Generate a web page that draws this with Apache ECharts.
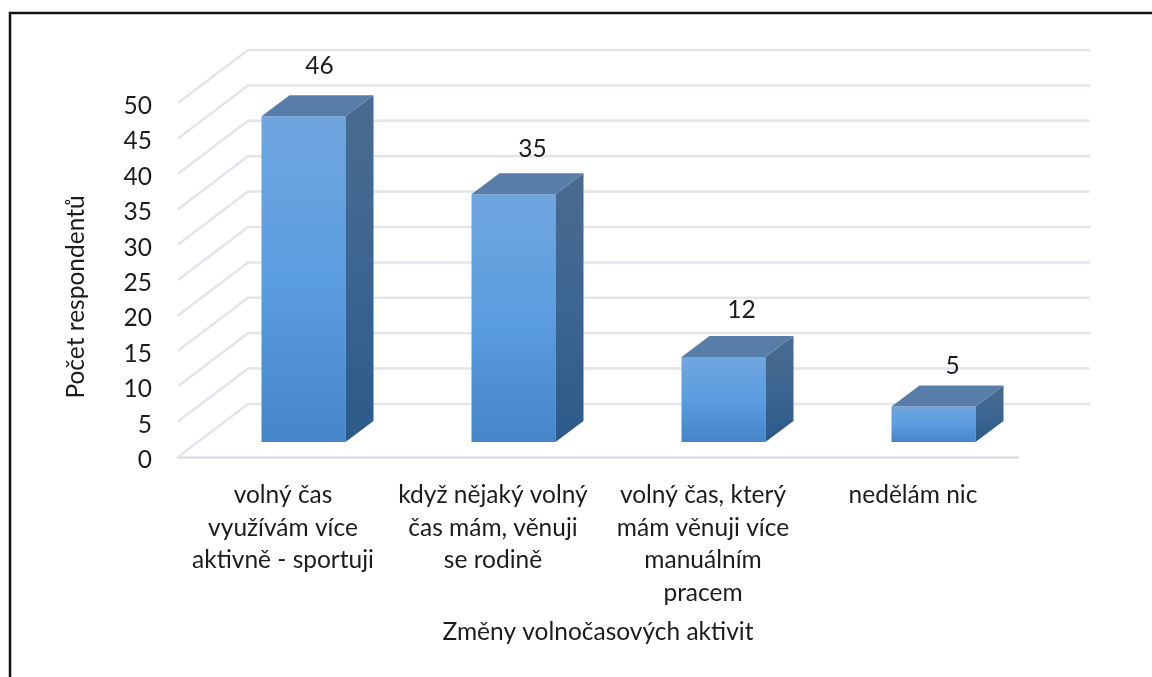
<!DOCTYPE html>
<html><head><meta charset="utf-8">
<style>html,body{margin:0;padding:0;background:#fff}#c{width:1152px;height:677px}</style>
<script src="https://cdn.jsdelivr.net/npm/echarts@6/dist/echarts.min.js"></script>
</head><body><div id="c"></div>
<script>
const categories = ['volný čas\nvyužívám více\naktivně - sportuji','když nějaký volný\nčas mám, věnuji\nse rodině','volný čas, který\nmám věnuji více\nmanuálním\npracem','nedělám nic'];
const values = [46, 35, 12, 5];
const yTicks = [0,5,10,15,20,25,30,35,40,45,50];
const xAxisTitle = 'Změny volnočasových aktivit';
const yAxisTitle = 'Počet respondentů';

const FONT = 'Lato, "Open Sans", sans-serif';
const FS = 24.5;
const TEXT = '#1c1c1c';
const WALL = {dx:70, dy:-53, over:72};
const FLOOR = {dx:20.5, dy:-15};
const DEPTH = {dx:28, dy:-21};
const BAR_RATIO = 0.4;
const LABEL_NUDGE = [[16,-29],[19,-24],[18,-26],[19,-20]];

function grad(a,b,c){return {type:'linear',x:0,y:0,x2:0,y2:1,colorStops:[{offset:0,color:a},{offset:0.5,color:b},{offset:1,color:c}]};}
const frontFill = grad('#70a6df','#5a9de0','#4486c8');
const sideFill = grad('#4a6b90','#3d6591','#2b5a89');
const topFill = '#587da8';

const chart = echarts.init(document.getElementById('c'),null,{renderer:'canvas'});
chart.setOption({
  animation:false,
  backgroundColor:'#fff',
  grid:{left:178,right:134,top:103,bottom:220,containLabel:false},
  xAxis:{type:'category',data:categories,
    axisLine:{show:true,lineStyle:{color:'#dcdfe6',width:2.5}},axisTick:{show:false},splitLine:{show:false},
    axisLabel:{color:TEXT,fontFamily:FONT,fontSize:FS,lineHeight:32.5,margin:22,interval:0},
    name:xAxisTitle,nameLocation:'middle',nameGap:163,
    nameTextStyle:{color:TEXT,fontFamily:FONT,fontSize:FS}},
  yAxis:{type:'value',min:0,max:50,interval:5,
    axisLine:{show:false},axisTick:{show:false},splitLine:{show:false},
    axisLabel:{color:TEXT,fontFamily:FONT,fontSize:FS,margin:26,verticalAlign:'top',lineHeight:6,showMinLabel:true,showMaxLabel:true,hideOverlap:false},
    name:yAxisTitle,nameLocation:'middle',nameGap:89,
    nameTextStyle:{color:TEXT,fontFamily:FONT,fontSize:FS,padding:[0,34,0,0]}},
  graphic:[
    {type:'polyline',silent:true,shape:{points:[[10,677],[10,13],[1152,13]]},style:{fill:null,stroke:'#111',lineWidth:2.5}}
  ],
  series:[
    {type:'custom',z:1,silent:true,clip:false,data:yTicks.map(v=>[v]),encode:{y:0},
     renderItem(params,api){
       const cs=params.coordSys, p=api.coord([0,api.value(0)]), y=p[1], x=cs.x;
       return {type:'polyline',shape:{points:[[x,y],[x+WALL.dx,y+WALL.dy],[x+cs.width+WALL.over,y+WALL.dy]]},
         style:{fill:null,stroke:'#e3e5ec',lineWidth:2.5}};
     }},
    {type:'custom',z:3,clip:false,data:values.map((v,i)=>[i,v]),encode:{x:0,y:1},
     renderItem(params,api){
       const i=api.value(0), v=api.value(1);
       const top=api.coord([i,v]), bot=api.coord([i,0]);
       const w=api.size([1,0])[0]*BAR_RATIO;
       const x0=top[0]+FLOOR.dx-w/2, x1=x0+w;
       const yT=top[1]+FLOOR.dy, yB=bot[1]+FLOOR.dy;
       const n=LABEL_NUDGE[params.dataIndex];
       return {type:'group',children:[
         {type:'rect',shape:{x:x0,y:yT,width:w,height:yB-yT},style:{fill:frontFill}},
         {type:'polygon',shape:{points:[[x1,yT],[x1+DEPTH.dx,yT+DEPTH.dy],[x1+DEPTH.dx,yB+DEPTH.dy],[x1,yB]]},style:{fill:sideFill}},
         {type:'polygon',shape:{points:[[x0,yT],[x0+DEPTH.dx,yT+DEPTH.dy],[x1+DEPTH.dx,yT+DEPTH.dy],[x1,yT]]},style:{fill:topFill}},
         {type:'text',z2:10,style:{text:String(v),x:x0+w/2+n[0],y:yT+DEPTH.dy+n[1],align:'center',verticalAlign:'middle',
            fill:TEXT,font:FS+'px '+FONT}}
       ]};
     }}
  ]
});
</script></body></html>
